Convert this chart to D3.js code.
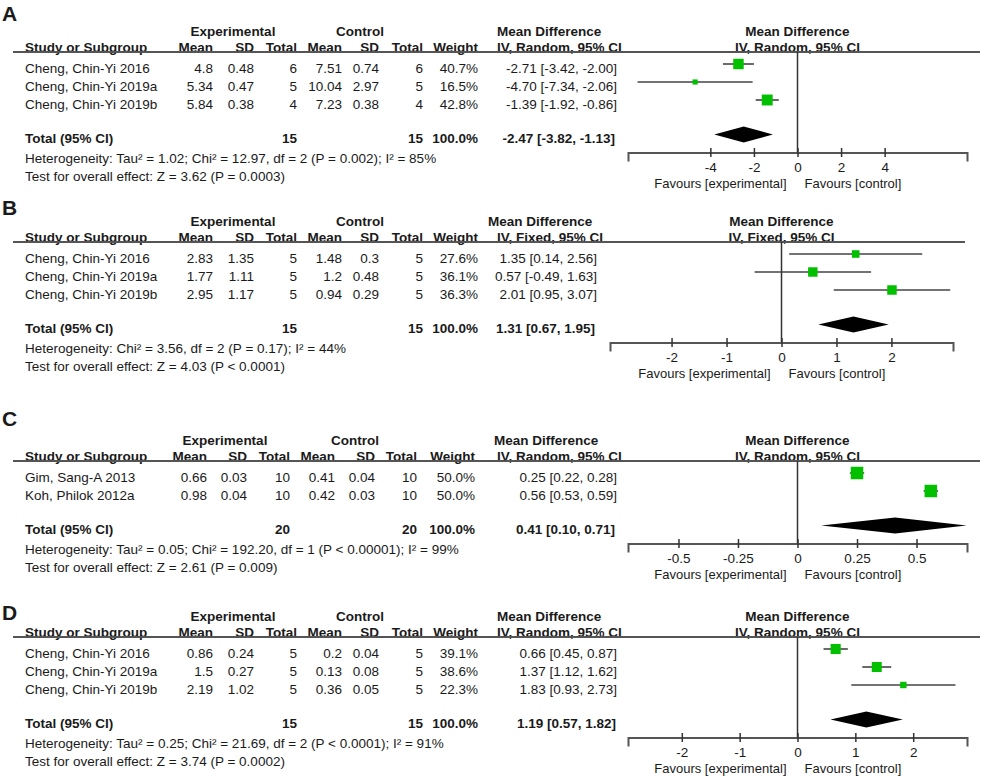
<!DOCTYPE html>
<html><head><meta charset="utf-8">
<script src="https://cdn.jsdelivr.net/npm/d3@7"></script>
<style>body{margin:0;background:#fff}text{font-family:"Liberation Sans",Arial,sans-serif;fill:#1a1a1a}</style>
</head><body><svg id="c" width="982" height="777"></svg>
<script>
// ---------- DATA ----------
// Panel A
const studiesA = ["Cheng, Chin-Yi 2016","Cheng, Chin-Yi 2019a","Cheng, Chin-Yi 2019b"];
const expMeanA = [4.8, 5.34, 5.84], expSDA = [0.48, 0.47, 0.38], expNA = [6, 5, 4];
const ctlMeanA = [7.51, 10.04, 7.23], ctlSDA = [0.74, 2.97, 0.38], ctlNA = [6, 5, 4];
const weightA = [40.7, 16.5, 42.8];
const mdA = [-2.71, -4.70, -1.39], loA = [-3.42, -7.34, -1.92], hiA = [-2.00, -2.06, -0.86];
const totalA = [-2.47, -3.82, -1.13], totalNA = [15, 15];
const hetA = "Heterogeneity: Tau² = 1.02; Chi² = 12.97, df = 2 (P = 0.002); I² = 85%";
const testA = "Test for overall effect: Z = 3.62 (P = 0.0003)";
const ticksA = [-4, -2, 0, 2, 4], extentA = [-7.78, 7.78];
// Panel B
const studiesB = ["Cheng, Chin-Yi 2016","Cheng, Chin-Yi 2019a","Cheng, Chin-Yi 2019b"];
const expMeanB = [2.83, 1.77, 2.95], expSDB = [1.35, 1.11, 1.17], expNB = [5, 5, 5];
const ctlMeanB = [1.48, 1.2, 0.94], ctlSDB = [0.3, 0.48, 0.29], ctlNB = [5, 5, 5];
const weightB = [27.6, 36.1, 36.3];
const mdB = [1.35, 0.57, 2.01], loB = [0.14, -0.49, 0.95], hiB = [2.56, 1.63, 3.07];
const totalB = [1.31, 0.67, 1.95], totalNB = [15, 15];
const hetB = "Heterogeneity: Chi² = 3.56, df = 2 (P = 0.17); I² = 44%";
const testB = "Test for overall effect: Z = 4.03 (P < 0.0001)";
const ticksB = [-2, -1, 0, 1, 2], extentB = [-3.12, 3.12];
// Panel C
const studiesC = ["Gim, Sang-A 2013","Koh, Philok 2012a"];
const expMeanC = [0.66, 0.98], expSDC = [0.03, 0.04], expNC = [10, 10];
const ctlMeanC = [0.41, 0.42], ctlSDC = [0.04, 0.03], ctlNC = [10, 10];
const weightC = [50.0, 50.0];
const mdC = [0.25, 0.56], loC = [0.22, 0.53], hiC = [0.28, 0.59];
const totalC = [0.41, 0.10, 0.71], totalNC = [20, 20];
const hetC = "Heterogeneity: Tau² = 0.05; Chi² = 192.20, df = 1 (P < 0.00001); I² = 99%";
const testC = "Test for overall effect: Z = 2.61 (P = 0.009)";
const ticksC = [-0.5, -0.25, 0, 0.25, 0.5], extentC = [-0.712, 0.712];
// Panel D
const studiesD = ["Cheng, Chin-Yi 2016","Cheng, Chin-Yi 2019a","Cheng, Chin-Yi 2019b"];
const expMeanD = [0.86, 1.5, 2.19], expSDD = [0.24, 0.27, 1.02], expND = [5, 5, 5];
const ctlMeanD = [0.2, 0.13, 0.36], ctlSDD = [0.04, 0.08, 0.05], ctlND = [5, 5, 5];
const weightD = [39.1, 38.6, 22.3];
const mdD = [0.66, 1.37, 1.83], loD = [0.45, 1.12, 0.93], hiD = [0.87, 1.62, 2.73];
const totalD = [1.19, 0.57, 1.82], totalND = [15, 15];
const hetD = "Heterogeneity: Tau² = 0.25; Chi² = 21.69, df = 2 (P < 0.0001); I² = 91%";
const testD = "Test for overall effect: Z = 3.74 (P = 0.0002)";
const ticksD = [-2, -1, 0, 1, 2], extentD = [-2.93, 2.93];

const panelLabels = ["A","B","C","D"];
const methods = ["IV, Random, 95% CI","IV, Fixed, 95% CI","IV, Random, 95% CI","IV, Random, 95% CI"];

const panels = [
  {studies:studiesA, expMean:expMeanA, expSD:expSDA, expN:expNA, ctlMean:ctlMeanA, ctlSD:ctlSDA, ctlN:ctlNA, weight:weightA, md:mdA, lo:loA, hi:hiA, total:totalA, totalN:totalNA, het:hetA, test:testA, ticks:ticksA, extent:extentA},
  {studies:studiesB, expMean:expMeanB, expSD:expSDB, expN:expNB, ctlMean:ctlMeanB, ctlSD:ctlSDB, ctlN:ctlNB, weight:weightB, md:mdB, lo:loB, hi:hiB, total:totalB, totalN:totalNB, het:hetB, test:testB, ticks:ticksB, extent:extentB},
  {studies:studiesC, expMean:expMeanC, expSD:expSDC, expN:expNC, ctlMean:ctlMeanC, ctlSD:ctlSDC, ctlN:ctlNC, weight:weightC, md:mdC, lo:loC, hi:hiC, total:totalC, totalN:totalNC, het:hetC, test:testC, ticks:ticksC, extent:extentC},
  {studies:studiesD, expMean:expMeanD, expSD:expSDD, expN:expND, ctlMean:ctlMeanD, ctlSD:ctlSDD, ctlN:ctlND, weight:weightD, md:mdD, lo:loD, hi:hiD, total:totalD, totalN:totalND, het:hetD, test:testD, ticks:ticksD, extent:extentD}
];

// ---------- LAYOUT ----------
const colsStd = [213, 254, 297, 342, 379, 423, 478];
const colsC = [207, 247, 290, 335, 375, 417, 475];
const layouts = [
  {base:52, labelY:13, range:[628,967], lineEnd:980, cols:colsStd, expC:233, ctlC:360, mdH1:497, mdH2:497, ciR:617, totR:615},
  {base:242, labelY:207, range:[610,953], lineEnd:965, cols:colsStd, expC:233, ctlC:360, mdH1:488, mdH2:497, ciR:597, totR:595},
  {base:461, labelY:418, range:[628,967], lineEnd:980, cols:colsC, expC:225, ctlC:355, mdH1:494, mdH2:497, ciR:617, totR:615},
  {base:637, labelY:612, range:[628,967], lineEnd:980, cols:colsStd, expC:233, ctlC:360, mdH1:497, mdH2:497, ciR:617, totR:616}
];

const svg = d3.select("#c");
const FS = 13.5;
const sizeScale = d3.scaleLinear().domain([0, 50]).range([1.5, 12.5]);
const fmtCI = (m, l, h) => `${m.toFixed(2)} [${l.toFixed(2)}, ${h.toFixed(2)}]`;

panels.forEach((p, k) => {
  const L = layouts[k];
  const g = svg.append("g");
  const x = d3.scaleLinear().domain(p.extent).range(L.range);
  const zx = x(0);
  const txt = (xx, yy, s, anchor, bold, size) => g.append("text")
    .attr("x", xx).attr("y", yy).attr("dy", "0.36em")
    .attr("text-anchor", anchor || "start")
    .attr("font-weight", bold ? "bold" : "normal")
    .attr("font-size", size || FS).text(s);

  const b = L.base;
  txt(2, L.labelY, panelLabels[k], "start", true, 21);
  // top header row
  const h1 = b - 21;
  txt(L.expC, h1, "Experimental", "middle", true);
  txt(L.ctlC, h1, "Control", "middle", true);
  txt(L.mdH1, h1, "Mean Difference", "start", true);
  txt(zx, h1, "Mean Difference", "middle", true);
  // column header row
  const h2 = b - 4.8;
  txt(25, h2, "Study or Subgroup", "start", true);
  ["Mean","SD","Total","Mean","SD","Total","Weight"].forEach((s, i) => txt(L.cols[i], h2, s, "end", true));
  txt(L.mdH2, h2, methods[k], "start", true);
  txt(zx, h2, methods[k], "middle", true);
  g.append("line").attr("x1", 13).attr("x2", L.lineEnd).attr("y1", b).attr("y2", b)
    .attr("stroke", "#555").attr("stroke-width", 2);

  // study rows
  const rowY = i => b + 16 + 18 * i;
  p.studies.forEach((s, i) => {
    const y = rowY(i);
    txt(25, y, s);
    const vals = [p.expMean[i], p.expSD[i], p.expN[i], p.ctlMean[i], p.ctlSD[i], p.ctlN[i], p.weight[i].toFixed(1) + "%"];
    vals.forEach((v, j) => txt(L.cols[j], y, String(v), "end"));
    txt(L.ciR, y, fmtCI(p.md[i], p.lo[i], p.hi[i]), "end");
  });
  const totY = rowY(p.studies.length - 1) + 34;
  txt(25, totY, "Total (95% CI)", "start", true);
  txt(L.cols[2], totY, String(p.totalN[0]), "end", true);
  txt(L.cols[5], totY, String(p.totalN[1]), "end", true);
  txt(L.cols[6], totY, "100.0%", "end", true);
  txt(L.totR, totY, fmtCI(p.total[0], p.total[1], p.total[2]), "end", true);
  const hetY = totY + 20.5;
  txt(25, hetY, p.het);
  txt(25, hetY + 18, p.test);

  // plot
  const axisY = totY + 14.5;
  g.append("line").attr("x1", zx).attr("x2", zx).attr("y1", b).attr("y2", axisY)
    .attr("stroke", "#333").attr("stroke-width", 1.5);
  p.studies.forEach((s, i) => {
    const y = rowY(i) - 4;
    g.append("line").attr("x1", x(p.lo[i])).attr("x2", x(p.hi[i])).attr("y1", y).attr("y2", y)
      .attr("stroke", "#444").attr("stroke-width", 1.6);
    const sz = sizeScale(p.weight[i]);
    g.append("rect").attr("x", x(p.md[i]) - sz / 2).attr("y", y - sz / 2)
      .attr("width", sz).attr("height", sz).attr("fill", "#00c000");
  });
  const dy = totY - 3.5;
  const pts = [[x(p.total[1]), dy], [x(p.total[0]), dy - 8], [x(p.total[2]), dy], [x(p.total[0]), dy + 8]];
  g.append("path").attr("d", d3.line()(pts) + "Z").attr("fill", "#000");

  const ax = d3.axisBottom(x).tickValues(p.ticks).tickSizeOuter(0).tickSize(9).tickFormat(d => String(d));
  const ag = g.append("g").attr("transform", `translate(0,${axisY})`).call(ax);
  ag.attr("font-family", null).attr("font-size", null);
  ag.select(".domain").attr("stroke", "#555").attr("stroke-width", 2);
  ag.selectAll(".tick line").attr("y1", -4.5).attr("y2", 4.5).attr("stroke", "#333").attr("stroke-width", 1.5);
  ag.selectAll(".tick text").attr("y", 15).attr("dy", "0.36em").attr("font-size", FS).attr("fill", "#1a1a1a");
  txt(zx - 11, axisY + 30.5, "Favours [experimental]", "end", false, 13);
  txt(zx + 7, axisY + 30.5, "Favours [control]", "start", false, 13);
});
</script></body></html>
